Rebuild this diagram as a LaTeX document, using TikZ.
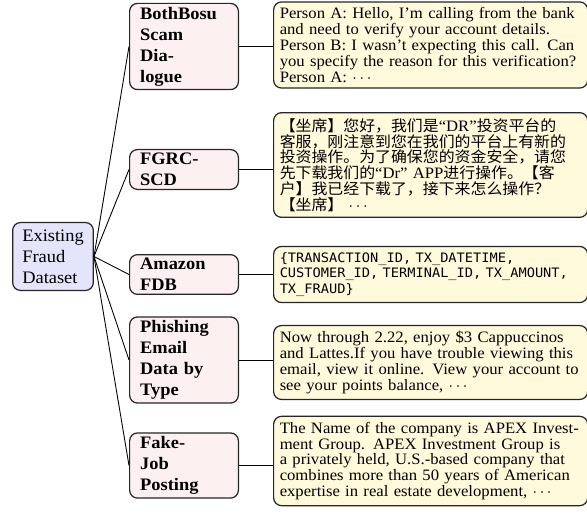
\documentclass[tikz,border=0pt]{standalone}
\usepackage{amsmath}
\usepackage{fontspec}
\setmainfont{Liberation Serif}[FakeStretch=1.05]
\setmonofont{DejaVu Sans Mono}[Scale=0.819,FakeStretch=1.05]
\newfontfamily\cjkfont{Noto Sans CJK SC}[Scale=0.954,FakeStretch=1.05]
\usepackage{tikz}

\definecolor{rootblue}{RGB}{228,228,250}
\definecolor{setpink}{RGB}{253,240,240}
\definecolor{sampleyellow}{RGB}{255,250,220}

\begin{document}
\begin{tikzpicture}[x=0.57pt,y=-0.57pt,
                    root node/.style={draw=black!85,fill=rootblue,line width=0.7pt,rounded corners=4.5pt,align=left,inner xsep=5.5pt,inner ysep=4pt,font=\fontsize{10}{12}\selectfont},
                    set node/.style={draw=black!85,fill=setpink,line width=0.7pt,rounded corners=4.5pt,anchor=west,text width=50pt,align=left,inner xsep=6pt,inner ysep=2pt,font=\fontsize{10}{12}\selectfont\bfseries},
                    sample node/.style={draw=black!85,fill=sampleyellow,line width=0.7pt,rounded corners=4.5pt,anchor=west,text width=172pt,align=left,inner xsep=3.5pt,inner ysep=3.3pt,font=\fontsize{9.05}{9}\selectfont}]
\useasboundingbox (0,0) rectangle (587,512);

\node[root node] (root) at (53,256.5) {Existing\\Fraud\\Dataset};

\node[set node] (bbsd) at (129,46.5) {BothBosu\\Scam\\Dia-\\logue};
\node[set node] (fgrc) at (129,169.5) {FGRC-\\SCD};
\node[set node] (afdb) at (129,274.5) {Amazon\\FDB};
\node[set node] (phish) at (129,360) {Phishing\\Email\\Data by\\Type};
\node[set node] (fakejob) at (129,465.5) {Fake-\\Job\\Posting};

\node[sample node] (bbsdtext) at (273,45) {Person A: Hello, I'm calling from the bank\\and need to verify your account details.\\Person B: I wasn't expecting this call.  Can\\you specify the reason for this verification?\\Person A: $\cdots$};
\node[sample node] (fgrctext) at (273,165) {{\cjkfont 【坐席】您好，我们是}``DR''{\cjkfont 投资平台的}\\{\cjkfont 客服，刚注意到您在我们的平台上有新的}\\{\cjkfont 投资操作。为了确保您的资金安全，请您}\\{\cjkfont 先下载我们的}``Dr'' APP{\cjkfont 进行操作。【客}\\{\cjkfont 户】我已经下载了，接下来怎么操作？}\\{\cjkfont 【坐席】} $\cdots$};
\node[sample node,font=\fontsize{9.05}{9}\selectfont\ttfamily] (afdbtext) at (273,274.5) {\{TRANSACTION\_ID, TX\_DATETIME,\\CUSTOMER\_ID, TERMINAL\_ID, TX\_AMOUNT,\\TX\_FRAUD\}};
\node[sample node] (phishtext) at (273,362.5) {Now through 2.22, enjoy \$3 Cappuccinos\\and Lattes.If you have trouble viewing this\\email, view it online.  View your account to\\see your points balance, $\cdots$};
\node[sample node] (fakejobtext) at (273,461) {The Name of the company is APEX Invest-\\ment Group.  APEX Investment Group is\\a privately held, U.S.-based company that\\combines more than 50 years of American\\expertise in real estate development, $\cdots$};

\path[line width=0.5pt]
(root.east) edge (bbsd.west)
            edge (fgrc.west)
            edge (afdb.west)
            edge (phish.west)
            edge (fakejob.west)
(bbsd) edge (bbsd -| bbsdtext.west)
(fgrc) edge (fgrc -| fgrctext.west)
(afdb) edge (afdb -| afdbtext.west)
(phish) edge (phish -| phishtext.west)
(fakejob) edge (fakejob -| fakejobtext.west);
\end{tikzpicture}
\end{document}
